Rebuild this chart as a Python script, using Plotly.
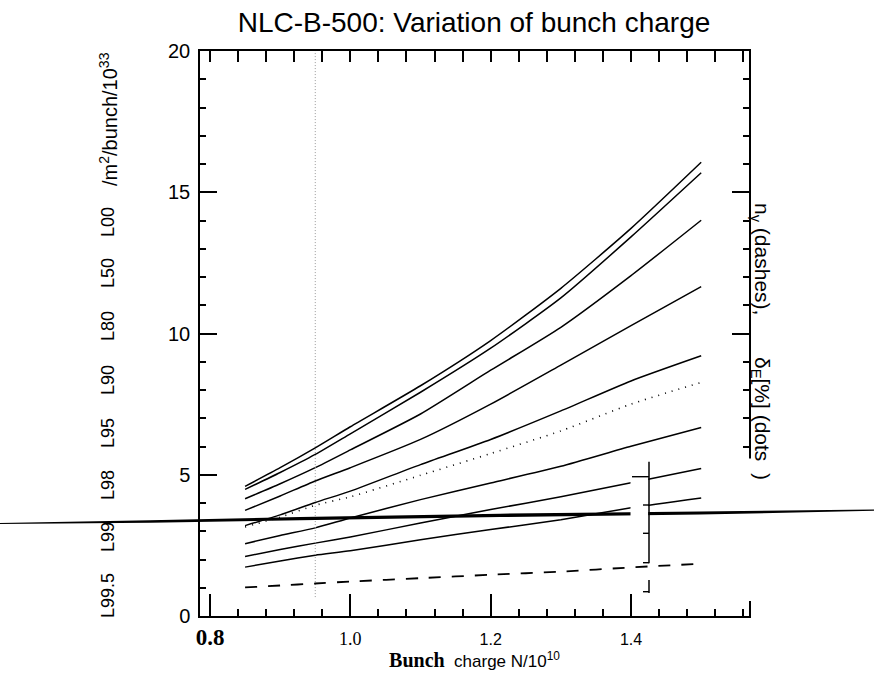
import plotly.graph_objects as go

# Bunch charge N/1e10 at which the curves are sampled
charge = [0.85, 0.90, 0.95, 1.00, 1.10, 1.20, 1.30, 1.40, 1.50]

# Luminosity per bunch (/m^2/bunch/1e33), total and within x% of the peak energy
l00 = [4.59, 5.25, 5.95, 6.70, 8.15, 9.75, 11.60, 13.72, 16.06]
l50 = [4.48, 5.08, 5.72, 6.45, 7.92, 9.48, 11.26, 13.42, 15.69]
l80 = [4.15, 4.68, 5.25, 5.88, 7.15, 8.70, 10.22, 12.05, 14.01]
l90 = [3.74, 4.25, 4.78, 5.25, 6.25, 7.50, 8.88, 10.28, 11.66]
l95 = [3.20, 3.58, 4.02, 4.42, 5.36, 6.25, 7.26, 8.32, 9.21]
l98 = [2.56, 2.85, 3.12, 3.47, 4.12, 4.71, 5.30, 6.01, 6.67]
l99 = [2.11, 2.35, 2.58, 2.80, 3.29, 3.77, 4.22, 4.72, 5.22]
l995 = [1.73, 1.95, 2.15, 2.31, 2.70, 3.06, 3.41, 3.83, 4.18]

# Photons per electron (dashes) and energy spread in % (dots), right-hand scale
n_gamma = [1.01, 1.08, 1.15, 1.22, 1.34, 1.46, 1.57, 1.72, 1.85]
delta_e = [3.15, 3.50, 3.92, 4.22, 4.98, 5.75, 6.55, 7.50, 8.27]

# Nominal design charge, marked with a faint vertical line
nominal_charge = 0.95
nominal_span = [0.67, 20.0]

x_tick_vals = [0.8, 1.0, 1.2, 1.4]
x_tick_text = ["0.8", "1.0", "1.2", "1.4"]
y_tick_vals = [0, 5, 10, 15, 20]
y_tick_text = ["0", "5", "10", "15", "20"]
lum_labels = ["L99.5", "L99", "L98", "L95", "L90", "L80", "L50", "L00"]

X_RANGE = [0.78575, 1.56814]
Y_RANGE = [0, 20]

# ---------------------------------------------------------------- geometry
W, H = 874, 679
ML, MR, MT, MB = 200, 125, 51, 63


def xp(px):
    """page pixel column -> paper x"""
    return (px - ML) / (W - ML - MR)


def yp(py):
    """page pixel row -> paper y"""
    return (H - MB - py) / (H - MT - MB)


fig = go.Figure()

curve_line = dict(color="black", width=1.5, shape="spline", smoothing=0.6)
for ys in [l00, l50, l80, l90, l95, l98, l99, l995]:
    fig.add_trace(go.Scatter(x=charge, y=ys, mode="lines", line=curve_line,
                             hoverinfo="skip"))

# right-hand quantities live on the overlaid top/right axes (same scales)
fig.add_trace(go.Scatter(x=charge, y=delta_e, mode="lines",
                         xaxis="x2", yaxis="y2",
                         line=dict(color="black", width=1.6, dash="1px,6px",
                                   shape="spline", smoothing=0.6),
                         hoverinfo="skip"))
fig.add_trace(go.Scatter(x=charge, y=n_gamma, mode="lines",
                         xaxis="x2", yaxis="y2",
                         line=dict(color="black", width=1.8, dash="12px,11px",
                                   shape="spline", smoothing=0.6),
                         hoverinfo="skip"))
fig.add_trace(go.Scatter(x=[nominal_charge, nominal_charge], y=nominal_span,
                         mode="lines",
                         line=dict(color="#9a9a9a", width=1, dash="1px,2px"),
                         hoverinfo="skip"))

# tick label styling: a bold first label, serif/sans mix for the others
x_styles = ["<b><span style='font-size:23px'>{}</span></b>",
            "{}",
            "<span style='font-family:Liberation Sans;font-size:16px'>{}</span>",
            "<span style='font-family:Liberation Sans;font-size:16px'>{}</span>"]
x_tick_html = [s.format(t) for s, t in zip(x_styles, x_tick_text)]

frame = dict(showline=True, linecolor="black", linewidth=1.5,
             ticks="inside", tickcolor="black",
             showgrid=False, zeroline=False)
minor_y = dict(ticks="inside", ticklen=6, tickwidth=1.5, tickcolor="black",
               tickmode="linear", tick0=0, dtick=1, showgrid=False)

fig.update_layout(
    width=W, height=H,
    margin=dict(l=ML, r=MR, t=MT, b=MB, autoexpand=False),
    paper_bgcolor="white", plot_bgcolor="white",
    showlegend=False,
    title=dict(text="NLC-B-500: Variation of bunch charge",
               xref="container", x=474 / W, xanchor="center",
               yref="container", y=1 - 22 / H, yanchor="middle",
               font=dict(family="Liberation Sans", size=28, color="black")),
    xaxis=dict(range=X_RANGE, tickmode="array",
               tickvals=x_tick_vals, ticktext=x_tick_html,
               ticklen=22, tickwidth=1.6,
               tickfont=dict(family="Liberation Serif", size=18, color="black"),
               ticklabelstandoff=6,
               minor=dict(ticks="inside", ticklen=7, tickwidth=1.5,
                          tickcolor="black", tickmode="linear",
                          tick0=0.8, dtick=0.04, showgrid=False),
               title=dict(text="<span style='font-family:Liberation Serif;font-size:20px'><b>Bunch</b></span>"
                               "  charge N/10<sup>10</sup>",
                          font=dict(family="Liberation Sans", size=17, color="black"),
                          standoff=6),
               **frame),
    yaxis=dict(range=Y_RANGE, tickmode="array",
               tickvals=y_tick_vals, ticktext=y_tick_text,
               ticklen=17, tickwidth=1.6,
               tickfont=dict(family="Liberation Sans", size=20, color="black"),
               ticklabelstandoff=4,
               minor=minor_y,
               **frame),
    xaxis2=dict(range=X_RANGE, overlaying="x", side="top", anchor="y2",
                tickmode="linear", tick0=0.8, dtick=0.04,
                ticklen=11, tickwidth=1.5, showticklabels=False,
                **frame),
    yaxis2=dict(range=Y_RANGE, overlaying="y", side="right", anchor="x2",
                tickmode="linear", tick0=0, dtick=5,
                ticklen=17, tickwidth=1.6, showticklabels=False,
                minor=minor_y,
                **frame),
)

# left axis caption, one label per curve plus the unit
label_rows = [596, 537, 485, 433, 380, 326, 273, 222]
cap_font = dict(family="Liberation Sans", size=18, color="black")
annotations = []
for lab, row in zip(lum_labels, label_rows):
    annotations.append(dict(text=lab, xref="paper", yref="paper",
                            x=xp(108), y=yp(row), xanchor="center",
                            yanchor="middle", textangle=-90, showarrow=False,
                            font=cap_font))
annotations.append(dict(text="/m<sup>2</sup>/bunch/10<sup>33</sup>",
                        xref="paper", yref="paper", x=xp(108), y=yp(119),
                        xanchor="center", yanchor="middle", textangle=-90,
                        showarrow=False,
                        font=dict(family="Liberation Sans", size=20,
                                  color="black")))

# right axis caption
side_font = dict(family="Liberation Sans", size=21, color="black")
annotations.append(dict(text="n<sub>γ</sub> (dashes),", xref="paper",
                        yref="paper", x=xp(761), y=yp(259), xanchor="center",
                        yanchor="middle", textangle=90, showarrow=False,
                        font=side_font))
annotations.append(dict(text="δ<sub>E</sub>[%] (dots  )", xref="paper",
                        yref="paper", x=xp(761), y=yp(418), xanchor="center",
                        yanchor="middle", textangle=90, showarrow=False,
                        font=side_font))
fig.update_layout(annotations=annotations)

shapes = []
# the lower part of the right frame sits shifted into the plot
shapes.append(dict(type="rect", xref="paper", yref="paper",
                   x0=xp(726), x1=xp(753), y0=yp(601), y1=yp(458.5),
                   fillcolor="white", line=dict(width=0), layer="above"))

# heavy, slightly tilted rule running across the page
rule = [(0, 523.5, 0.4), (150, 521.5, 1.2), (300, 518.6, 1.6),
        (500, 515.4, 1.7), (700, 513.0, 1.6), (874, 510.2, 0.6)]
top = [(x, c - h) for x, c, h in rule]
bot = [(x, c + h) for x, c, h in reversed(rule)]
path = "M " + " L ".join(f"{xp(x):.5f},{yp(y):.5f}" for x, y in top + bot) + " Z"
shapes.append(dict(type="path", path=path, xref="paper", yref="paper",
                   fillcolor="black", line=dict(width=0), layer="above"))

# blank strip beside the shifted frame piece
shapes.append(dict(type="rect", xref="paper", yref="paper",
                   x0=xp(630.5), x1=xp(648.2), y0=yp(558), y1=yp(465),
                   fillcolor="white", line=dict(width=0), layer="above"))

# shifted frame piece with its ticks
seg_x = 649
for y0, y1 in [(461.7, 563.3), (580, 593)]:
    shapes.append(dict(type="line", xref="paper", yref="paper",
                       x0=xp(seg_x), x1=xp(seg_x), y0=yp(y0), y1=yp(y1),
                       line=dict(color="black", width=1.5), layer="above"))
for row, ln in [(476.7, 17), (505, 6), (533.3, 6), (562.7, 6), (591.7, 6)]:
    shapes.append(dict(type="line", xref="paper", yref="paper",
                       x0=xp(seg_x - ln), x1=xp(seg_x), y0=yp(row), y1=yp(row),
                       line=dict(color="black", width=1.4), layer="above"))

fig.update_layout(shapes=shapes)

fig.write_html("out.html")
